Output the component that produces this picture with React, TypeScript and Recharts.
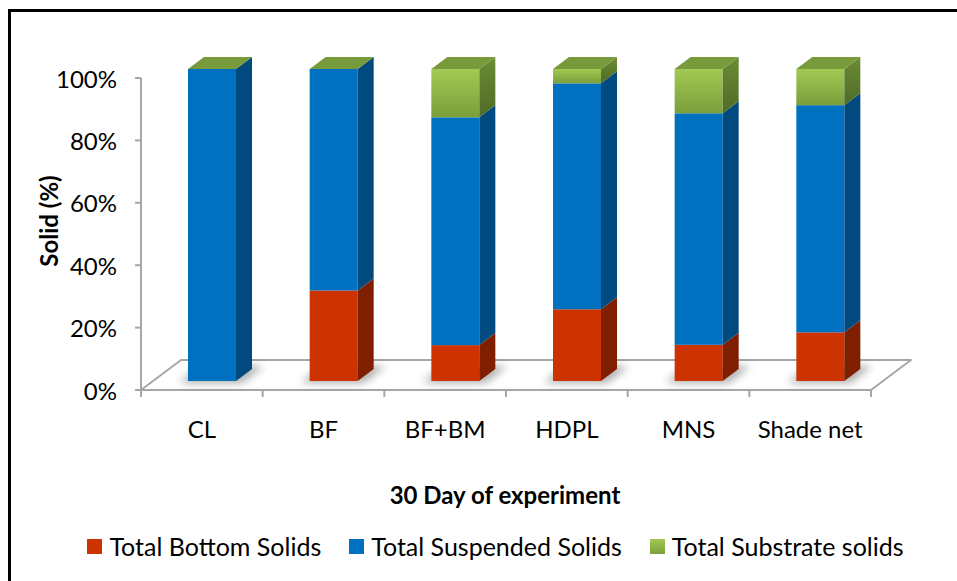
import React from 'react';
import { BarChart, Bar, XAxis, YAxis, Legend } from 'recharts';

const categories = ['CL', 'BF', 'BF+BM', 'HDPL', 'MNS', 'Shade net'];
const bottomSolids = [0, 29, 11.5, 23, 11.6, 15.6];
const suspendedSolids = [100, 71, 73, 72.4, 74.2, 72.8];
const substrateSolids = [0, 0, 15.5, 4.6, 14.2, 11.6];
const yTicks = [0, 20, 40, 60, 80, 100];

const seriesNames = ['Total Bottom Solids', 'Total Suspended Solids', 'Total Substrate solids'];

const data = categories.map((name, i) => ({
  name,
  bottom: bottomSolids[i],
  suspended: suspendedSolids[i],
  substrate: substrateSolids[i],
}));

const W = 957;
const H = 581;
const FONT = 'Lato, "Open Sans", sans-serif';
const LEGEND_H = 30;

// bars sit in a plane pushed back from the axis plane
const SHIFT_X = 10;
const SHIFT_Y = 9;
// bar depth
const DX = 16;
const DY = 12;

// front (axis) plane geometry
const FLOOR_L = 141;
const FLOOR_R = 871;
const FLOOR_Y = 390;
const FLOOR_DX = 40;
const FLOOR_DY = 30;
const AXIS_TOP = 78;
const GRID = '#A6A6A6';

type ShapeProps = {
  x?: number;
  y?: number;
  width?: number;
  height?: number;
};

function prism(front: string, side: string, opts: { top?: string; shadow?: boolean } = {}) {
  return (props: ShapeProps) => {
    const x = Number(props.x) || 0;
    const y = Number(props.y) || 0;
    const w = Number(props.width) || 0;
    const h = Math.max(0, Number(props.height) || 0);
    const b = y + h;
    return (
      <g>
        {opts.shadow && (
          <polygon
            points={`${x - 9},${b + 2} ${x + w + 6},${b + 2} ${x + w + DX + 12},${b - DY - 3} ${x + DX - 4},${b - DY - 3}`}
            fill="#000"
            opacity={0.32}
            filter="url(#baseShadow)"
          />
        )}
        {h > 0 && <rect x={x} y={y} width={w} height={h} fill={front} />}
        {h > 0 && (
          <polygon
            points={`${x + w},${y} ${x + w + DX},${y - DY} ${x + w + DX},${b - DY} ${x + w},${b}`}
            fill={side}
          />
        )}
        {opts.top && (
          <polygon
            points={`${x},${y} ${x + w},${y} ${x + w + DX},${y - DY} ${x + DX},${y - DY}`}
            fill={opts.top}
          />
        )}
      </g>
    );
  };
}

const YTick = (props: any) => {
  const { y, payload } = props;
  const yy = y + SHIFT_Y;
  return (
    <g>
      <line x1={FLOOR_L - 6} x2={FLOOR_L} y1={yy} y2={yy} stroke={GRID} strokeWidth={2} />
      <text x={117} y={yy} textAnchor="end" dominantBaseline="central" fontFamily={FONT} fontSize={24} fill="#000">
        {payload.value}%
      </text>
    </g>
  );
};

const XTick = (props: any) => {
  const { x, payload } = props;
  return (
    <text x={x - SHIFT_X} y={428} textAnchor="middle" dominantBaseline="central" fontFamily={FONT} fontSize={24} fill="#000">
      {payload.value}
    </text>
  );
};

const legendColors = ['#CC3300', '#0070C0', 'url(#greenFront)'];

const LegendContent = () => (
  <div
    style={{
      display: 'flex',
      justifyContent: 'center',
      alignItems: 'center',
      gap: 28,
      height: LEGEND_H,
      fontFamily: FONT,
      fontSize: 25,
      color: '#000',
      paddingLeft: 34,
    }}
  >
    {seriesNames.map((s, i) => (
      <div key={s} style={{ display: 'flex', alignItems: 'center', gap: 7 }}>
        <svg width={15} height={15}>
          <rect width={15} height={15} fill={legendColors[i]} />
        </svg>
        <span>{s}</span>
      </div>
    ))}
  </div>
);

function Backdrop() {
  const step = (FLOOR_R - FLOOR_L) / categories.length;
  return (
    <svg width={W} height={H} style={{ position: 'absolute', left: 0, top: 0 }}>
      <defs>
        <linearGradient id="greenFront" x1="0" y1="0" x2="0" y2="1">
          <stop offset="0%" stopColor="#A2C953" />
          <stop offset="100%" stopColor="#7B9E3B" />
        </linearGradient>
        <linearGradient id="greenSide" x1="0" y1="0" x2="0" y2="1">
          <stop offset="0%" stopColor="#6C8C35" />
          <stop offset="100%" stopColor="#4F6B27" />
        </linearGradient>
        <filter id="baseShadow" x="-50%" y="-100%" width="200%" height="300%">
          <feGaussianBlur stdDeviation="4" />
        </filter>
      </defs>
      {/* frame */}
      <path d={`M9.5,${H} L9.5,10.5 L${W},10.5`} fill="none" stroke="#000" strokeWidth={3} />
      {/* floor */}
      <polygon
        points={`${FLOOR_L},${FLOOR_Y} ${FLOOR_R},${FLOOR_Y} ${FLOOR_R + FLOOR_DX},${FLOOR_Y - FLOOR_DY} ${FLOOR_L + FLOOR_DX},${FLOOR_Y - FLOOR_DY}`}
        fill="#fff"
        stroke={GRID}
        strokeWidth={2}
        strokeLinejoin="round"
      />
      {/* value axis */}
      <line x1={FLOOR_L} x2={FLOOR_L} y1={AXIS_TOP} y2={FLOOR_Y} stroke={GRID} strokeWidth={2} />
      {/* category boundaries */}
      {Array.from({ length: categories.length + 1 }, (_, i) => (
        <line key={i} x1={FLOOR_L + i * step} x2={FLOOR_L + i * step} y1={FLOOR_Y} y2={FLOOR_Y + 7} stroke={GRID} strokeWidth={2} />
      ))}
      <text
        x={48}
        y={221}
        transform="rotate(-90 48 221)"
        textAnchor="middle"
        dominantBaseline="central"
        fontFamily={FONT}
        fontWeight="bold"
        fontSize={24}
        fill="#000"
      >
        Solid (%)
      </text>
      <text x={505} y={494} textAnchor="middle" dominantBaseline="central" fontFamily={FONT} fontWeight="bold" fontSize={24} fill="#000">
        30 Day of experiment
      </text>
    </svg>
  );
}

export default function App() {
  return (
    <div style={{ position: 'absolute', left: 0, top: 0, width: W, height: H, background: '#fff' }}>
      <Backdrop />
      <div style={{ position: 'absolute', left: 0, top: 0 }}>
        <BarChart
          width={W}
          height={H}
          data={data}
          margin={{ top: 69, right: 76, left: 91, bottom: 160 - LEGEND_H }}
          barSize={48}
        >
          <XAxis dataKey="name" height={40} axisLine={false} tickLine={false} tick={<XTick />} interval={0} />
          <YAxis width={60} domain={[0, 100]} ticks={yTicks} axisLine={false} tickLine={false} tick={<YTick />} />
          <Legend
            verticalAlign="bottom"
            height={LEGEND_H}
            content={<LegendContent />}
            wrapperStyle={{ position: 'absolute', top: 531, left: 0, width: W }}
          />
          <Bar
            dataKey="bottom"
            name={seriesNames[0]}
            stackId="s"
            isAnimationActive={false}
            shape={prism('#CC3300', '#7F1F00', { shadow: true })}
          />
          <Bar
            dataKey="suspended"
            name={seriesNames[1]}
            stackId="s"
            isAnimationActive={false}
            shape={prism('#0070C0', '#004A80')}
          />
          <Bar
            dataKey="substrate"
            name={seriesNames[2]}
            stackId="s"
            isAnimationActive={false}
            shape={prism('url(#greenFront)', 'url(#greenSide)', { top: '#779A3A' })}
          />
        </BarChart>
      </div>
    </div>
  );
}
